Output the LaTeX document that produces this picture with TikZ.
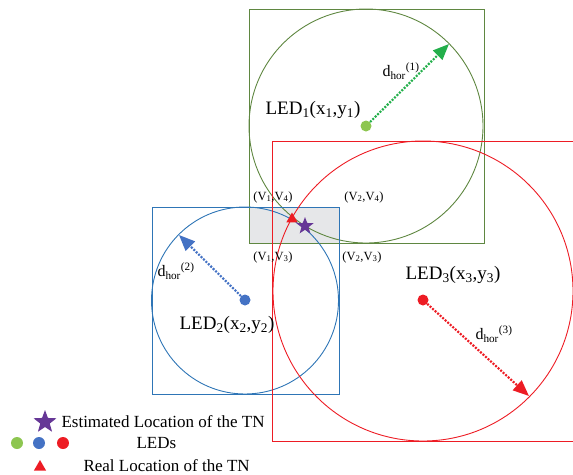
\documentclass[tikz,border=0pt]{standalone}
\usepackage{fontspec}
\setmainfont{Liberation Serif}
\usepackage{tikz}
\usetikzlibrary{positioning, arrows.meta, shapes.geometric}

\definecolor{zonegreen}{RGB}{95,135,65}
\definecolor{dotgreen}{RGB}{141,198,80}
\definecolor{arrowgreen}{RGB}{35,175,75}
\definecolor{zoneblue}{RGB}{46,117,182}
\definecolor{dotblue}{RGB}{68,114,196}
\definecolor{zonered}{RGB}{237,28,36}
\definecolor{tnpurple}{RGB}{102,55,150}
\definecolor{overlap}{RGB}{230,231,233}

\begin{document}
\begin{tikzpicture}[
    x=1pt, y=-1pt,
    zone/.style={line width=0.9pt},
    led/.style={circle, inner sep=0pt, minimum size=11pt},
    hordist/.style={-{Triangle[length=16pt, width=13pt]}, line width=2.2pt, dash pattern=on 2pt off 1.4pt},
    estim/.style={star, star points=5, star point ratio=2.4, fill=tnpurple, inner sep=0pt},
    realtn/.style={regular polygon, regular polygon sides=3, fill=zonered, inner sep=0pt},
    vlabel/.style={font=\fontsize{12.5}{14}\selectfont},
    ledlabel/.style={font=\fontsize{19}{22}\selectfont},
    dlabel/.style={font=\fontsize{16}{18}\selectfont},
    legtext/.style={font=\fontsize{17}{20}\selectfont, anchor=west}
]
\useasboundingbox (0,0) rectangle (573,474);

% Overlap of the two squares
\fill[overlap] (249,207) rectangle (339,243);

% LED 1 coverage
\draw[zone, zonegreen] (249,9) rectangle (484,243);
\draw[zone, zonegreen] (366,126) circle [radius=117pt];

% LED 2 coverage
\draw[zone, zoneblue] (152,207) rectangle (339,394);
\draw[zone, zoneblue] (245,300.5) circle [radius=93.5pt];

% LED 3 coverage
\draw[zone, zonered] (272,141) rectangle (574,441);
\draw[zone, zonered] (423,291) circle [radius=150pt];

% LEDs
\node[led, fill=dotgreen] (led1) at (366,126) {};
\node[led, fill=dotblue] (led2) at (245,300) {};
\node[led, fill=zonered] (led3) at (423,300) {};

% Ends of the horizontal distances
\coordinate (r1) at (449,44);
\coordinate (r2) at (179,235);
\coordinate (r3) at (529,396);

\draw[hordist, arrowgreen] (led1) -- (r1);
\draw[hordist, dotblue] (led2) -- (r2);
\draw[hordist, zonered] (led3) -- (r3);

% Labels
\node[ledlabel] (lab1) at (313,110) {LED\textsubscript{1}(x\textsubscript{1},y\textsubscript{1})};
\node[ledlabel] (lab2) at (227,325) {LED\textsubscript{2}(x\textsubscript{2},y\textsubscript{2})};
\node[ledlabel] (lab3) at (453,275) {LED\textsubscript{3}(x\textsubscript{3},y\textsubscript{3})};

\node[dlabel] (d1) at (401,71) {d\textsubscript{hor}\textsuperscript{(1)}};
\node[dlabel] (d2) at (176,271) {d\textsubscript{hor}\textsuperscript{(2)}};
\node[dlabel] (d3) at (494,334) {d\textsubscript{hor}\textsuperscript{(3)}};

% Corners of the overlap
\node[vlabel] (v14) at (273,197) {(V\textsubscript{1},V\textsubscript{4})};
\node[vlabel] (v24) at (364,197) {(V\textsubscript{2},V\textsubscript{4})};
\node[vlabel] (v13) at (273,257) {(V\textsubscript{1},V\textsubscript{3})};
\node[vlabel] (v23) at (362,257) {(V\textsubscript{2},V\textsubscript{3})};

% Target node
\node[realtn, minimum size=13pt] (tn) at (292,219) {};
\node[estim, minimum size=18pt] (est) at (305,226) {};

% Legend
\node[estim, minimum size=24pt] (legstar) at (45,422) {};
\node[legtext] (legest) at (58,422) {Estimated Location of the TN};
\node[led, fill=dotgreen, minimum size=12pt] (leg1) at (17,443) {};
\node[led, fill=dotblue, minimum size=12pt] (leg2) at (39,443) {};
\node[led, fill=zonered, minimum size=12pt] (leg3) at (63,443) {};
\node[legtext] (legled) at (133,443) {LEDs};
\node[realtn, minimum size=14pt] (legtri) at (40,467) {};
\node[legtext] (legreal) at (80,465.5) {Real Location of the TN};

\end{tikzpicture}
\end{document}
